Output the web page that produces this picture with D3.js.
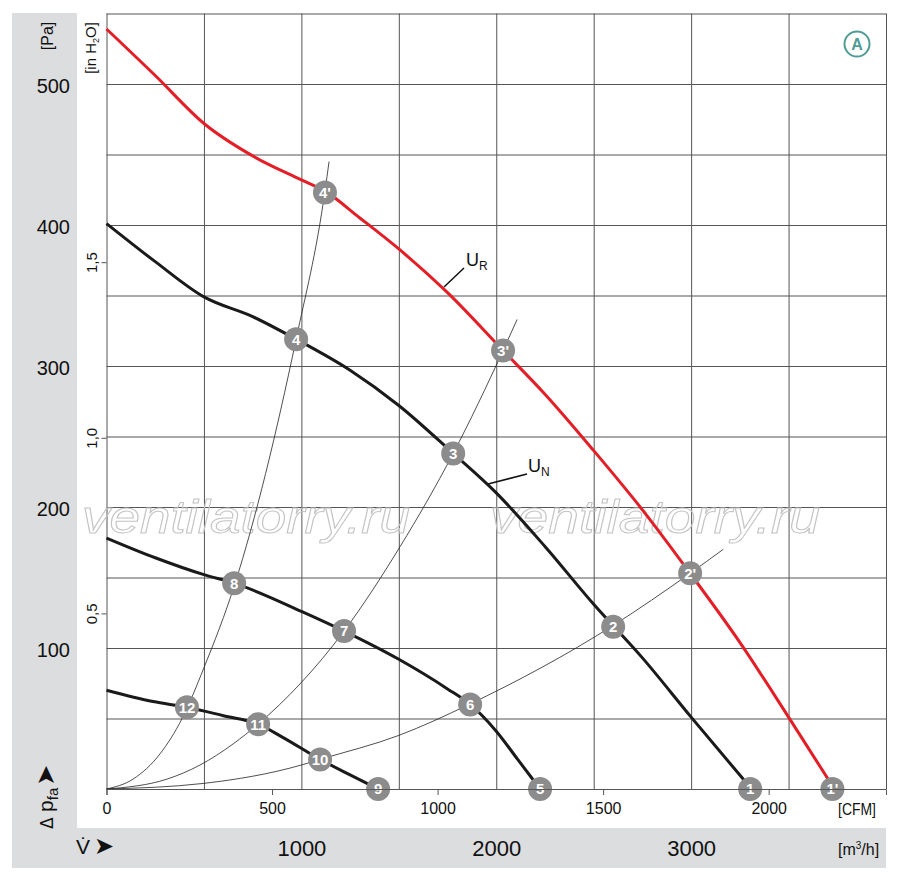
<!DOCTYPE html>
<html lang="ru">
<head>
  <meta charset="UTF-8">
  <title>Fan curve</title>
  <script src="https://d3js.org/d3.v7.min.js"></script>
  <style>
    body { margin: 0; background: #fff; }
    text { font-family: "Liberation Sans Narrow", "Liberation Sans", Arial, sans-serif; fill: #111; }
    .grid line { stroke: #555; stroke-width: 1; }
    .grid path { display: none; }
  </style>
</head>
<body>
  <div id="chart"></div>

  <script>
    // curves: [m3/h, Pa]
    const curveUR = [[0,539],[250,506],[500,472],[750,449],[1000,432],[1121,424],[1300,405],[1500,383],[1750,352],[2035,311],[2250,280],[2500,240],[2750,198],[3000,152],[3250,104],[3500,51],[3735,0]];
    const curveUN = [[0,401],[250,374],[500,349],[750,335],[973,319],[1250,297],[1500,272],[1779,238],[2000,210],[2250,172],[2500,131],[2750,93],[3000,51],[3310,0]];
    const curve58 = [[0,178],[250,164],[500,152],[655,146],[1000,126],[1219,112],[1500,92],[1750,71],[1866,60],[2000,41],[2110,21],[2225,0]];
    const curve912 = [[0,70],[239,62],[413,58],[600,52],[778,46],[900,37],[1096,21],[1250,10],[1394,0]];

    // system curves (thin)
    const sysA = [[0,0],[136,7],[275,25],[388,50],[500,86],[660,146],[973,319],[1121,424],[1142,445]];
    const sysB = [[0,0],[310,7],[480,17],[650,32],[778,46],[1219,112],[1507,172],[1779,238],[2035,311],[2107,333]];
    const sysC = [[0,0],[500,4],[1000,17],[1096,21],[1500,38],[1861,60],[2600,116],[2995,153],[3165,170]];

    // operating points
    const markerLabels = ["1","1'","2","2'","3","3'","4","4'","5","6","7","8","9","10","11","12"];
    const markerV = [3303,3725,2600,2995,1779,2035,973,1121,2225,1866,1219,655,1394,1096,778,413];
    const markerP = [0,0,115,153,238,311,319,423,0,60,112,146,0,21,46,58];

    // ticks
    const paTicks = [100,200,300,400,500];
    const inH2OTicks = [0.5,1.0,1.5];
    const cfmTicks = [0,500,1000,1500,2000];
    const m3hTicks = [1000,2000,3000];

    const W = 900, H = 877;
    const L = 106.5, R = 886, T = 13.5, B = 789;

    const svg = d3.select("#chart").append("svg")
      .attr("width", W).attr("height", H);

    const x = d3.scaleLinear().domain([0, 4000]).range([L, R]);
    const y = d3.scaleLinear().domain([0, 550]).range([B, T]);
    const xCfm = d3.scaleLinear().domain([0, 4000 / 1.699]).range([L, R]);
    const yIn = d3.scaleLinear().domain([0, 550 / 249.089]).range([B, T]);

    // gray bands
    svg.append("rect").attr("x", 12).attr("y", 13).attr("width", 65).attr("height", 855).attr("fill", "#dcddde");
    svg.append("rect").attr("x", 12).attr("y", 828).attr("width", R - 12).attr("height", 40).attr("fill", "#dcddde");

    // grid
    svg.append("g").attr("class", "grid")
       .attr("transform", `translate(0,${B})`)
       .call(d3.axisBottom(x).tickValues(d3.range(0, 4001, 500)).tickSize(-(B - T)).tickFormat(""));
    svg.append("g").attr("class", "grid")
       .attr("transform", `translate(${L},0)`)
       .call(d3.axisLeft(y).tickValues(d3.range(0, 551, 50)).tickSize(-(R - L)).tickFormat(""));

    // watermark
    [[82, 410], [490, 820]].forEach(([a, b]) => {
      svg.append("text")
         .attr("x", a).attr("y", 533)
         .attr("textLength", b - a).attr("lengthAdjust", "spacingAndGlyphs")
         .style("font-family", "'Liberation Sans', Arial, sans-serif")
         .style("font-style", "italic")
         .style("font-size", "46px")
         .style("fill", "none")
         .style("stroke", "#c4c4c4")
         .style("stroke-width", 1)
         .text("ventilatorry.ru");
    });

    const line = d3.line().x(d => x(d[0])).y(d => y(d[1])).curve(d3.curveMonotoneX);

    [sysA, sysB, sysC].forEach(s => {
      svg.append("path").attr("d", line(s))
         .attr("fill", "none").attr("stroke", "#222").attr("stroke-width", 0.8);
    });

    [curve912, curve58, curveUN].forEach(c => {
      svg.append("path").attr("d", line(c))
         .attr("fill", "none").attr("stroke", "#1a1a1a").attr("stroke-width", 3);
    });
    svg.append("path").attr("d", line(curveUR))
       .attr("fill", "none").attr("stroke", "#e31e26").attr("stroke-width", 3);

    // leader labels
    svg.append("line").attr("x1", 444).attr("y1", 287).attr("x2", 464).attr("y2", 268)
       .attr("stroke", "#111").attr("stroke-width", 1.5);
    const uR = svg.append("text").attr("x", 466).attr("y", 266).style("font-size", "18px");
    uR.append("tspan").text("U");
    uR.append("tspan").attr("dy", 4).style("font-size", "12px").text("R");

    svg.append("line").attr("x1", 488).attr("y1", 484).attr("x2", 527).attr("y2", 474)
       .attr("stroke", "#111").attr("stroke-width", 1.5);
    const uN = svg.append("text").attr("x", 528).attr("y", 472).style("font-size", "18px");
    uN.append("tspan").text("U");
    uN.append("tspan").attr("dy", 4).style("font-size", "12px").text("N");

    // markers
    const mk = svg.selectAll(".mk").data(markerLabels).enter().append("g")
       .attr("class", "mk")
       .attr("transform", (d, i) => `translate(${x(markerV[i])},${y(markerP[i])})`);
    mk.append("circle").attr("r", 12).attr("fill", "#8c8c8c");
    mk.append("text").attr("text-anchor", "middle").attr("dy", "0.36em")
       .style("font-size", "15px").style("font-weight", "bold").style("fill", "#fff")
       .text(d => d);

    // Pa axis
    const paAx = svg.append("g").attr("transform", "translate(70,0)")
       .call(d3.axisLeft(y).tickValues(paTicks).tickSize(0).tickPadding(0));
    paAx.select(".domain").remove();
    paAx.selectAll("text").attr("dy", "0.42em")
       .style("font-family", "'Liberation Sans', Arial, sans-serif").style("font-size", "20px").style("fill", "#111");

    // inH2O axis
    const inAx = svg.append("g").attr("transform", `translate(${L},0)`)
       .call(d3.axisLeft(yIn).tickValues(inH2OTicks).tickSize(5).tickFormat(d => d3.format(".1f")(d).replace(".", ",")));
    inAx.select(".domain").remove();
    inAx.selectAll("line").attr("stroke", "#555");
    inAx.selectAll("text")
       .attr("transform", "rotate(-90)")
       .attr("x", 0).attr("y", -10).attr("dy", 0)
       .attr("text-anchor", "middle")
       .style("font-size", "15px").style("fill", "#111");

    // CFM axis
    const cfmAx = svg.append("g").attr("transform", `translate(0,${B})`)
       .call(d3.axisBottom(xCfm).tickValues(cfmTicks).tickSize(6).tickPadding(8).tickFormat(d3.format("d")));
    cfmAx.select(".domain").attr("stroke", "#555");
    cfmAx.selectAll("line").attr("stroke", "#555");
    cfmAx.selectAll("text").style("font-size", "16px").style("fill", "#111");

    // m3/h axis
    const m3Ax = svg.append("g").attr("transform", "translate(0,828)")
       .call(d3.axisBottom(x).tickValues(m3hTicks).tickSize(0).tickPadding(12).tickFormat(d3.format("d")));
    m3Ax.select(".domain").remove();
    m3Ax.selectAll("text").style("font-size", "22px").style("fill", "#111");

    // unit labels
    svg.append("text").attr("x", 838).attr("y", 815).attr("textLength", 38).attr("lengthAdjust", "spacingAndGlyphs")
       .style("font-size", "16px").text("[CFM]");
    const m3 = svg.append("text").attr("x", 838).attr("y", 855).style("font-size", "16px");
    m3.append("tspan").text("[m");
    m3.append("tspan").attr("dy", -6).style("font-size", "10px").text("3");
    m3.append("tspan").attr("dy", 6).text("/h]");

    svg.append("text").attr("transform", "translate(53,36) rotate(-90)")
       .attr("text-anchor", "middle").style("font-size", "16px").text("[Pa]");
    const inH = svg.append("text").attr("transform", "translate(96,48) rotate(-90)")
       .attr("text-anchor", "middle").style("font-size", "15px");
    inH.append("tspan").text("[in H");
    inH.append("tspan").attr("dy", 3).style("font-size", "9px").text("2");
    inH.append("tspan").attr("dy", -3).text("O]");

    // axis titles
    const dp = svg.append("text").attr("transform", "translate(53,829) rotate(-90)")
       .style("font-size", "21px");
    dp.append("tspan").style("font-family", "'DejaVu Sans', sans-serif").style("font-size", "17px").text("Δ ");
    dp.append("tspan").text("p");
    dp.append("tspan").attr("dy", 5).style("font-size", "15px").text("fa");
    dp.append("tspan").attr("dy", -4).attr("dx", 2)
       .style("font-family", "'DejaVu Sans', sans-serif").style("font-size", "25px").text("➤");

    const vd = svg.append("text").attr("x", 76).attr("y", 854).style("font-size", "21px");
    vd.append("tspan").text("V\u0307");
    vd.append("tspan").attr("dx", 4)
       .style("font-family", "'DejaVu Sans', sans-serif").style("font-size", "24px").text("➤");

    // A badge
    svg.append("circle").attr("cx", 857).attr("cy", 44).attr("r", 12.5)
       .attr("fill", "none").attr("stroke", "#4f9c96").attr("stroke-width", 2);
    svg.append("text").attr("x", 857).attr("y", 44).attr("dy", "0.36em").attr("text-anchor", "middle")
       .style("font-size", "16px").style("font-weight", "bold").style("fill", "#4f9c96").text("A");
  </script>
</body>
</html>
